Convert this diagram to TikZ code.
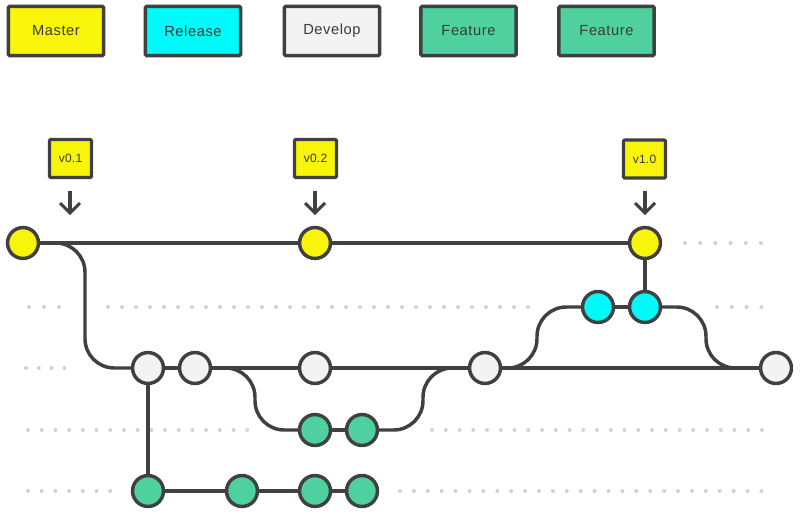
\documentclass[tikz,border=0pt]{standalone}
\usepackage{fontspec}
\setmainfont{Liberation Sans}[LetterSpace=4]
\newfontfamily\tagfont{Liberation Sans}[LetterSpace=2]
\definecolor{ink}{HTML}{404040}
\definecolor{txt}{HTML}{3A3A3A}
\definecolor{mast}{HTML}{F8F50A}
\definecolor{rel}{HTML}{00FAFA}
\definecolor{dev}{HTML}{F3F3F3}
\definecolor{feat}{HTML}{4ED19F}
\definecolor{dotc}{HTML}{D2D2D2}
\tikzset{
  legendbox/.style={draw=ink, line width=2.6pt, rounded corners=1pt, minimum width=71.5pt, minimum height=37pt, inner sep=0pt, text=txt, font=\fontsize{11pt}{13pt}\selectfont},
  tagbox/.style={draw=ink, fill=mast, line width=2.3pt, rounded corners=0.8pt, minimum width=31.5pt, minimum height=28.5pt, inner sep=0pt, text=txt, font=\tagfont\fontsize{9pt}{11pt}\selectfont},
  commit/.style={circle, draw=ink, line width=2.6pt, minimum size=23.2pt, inner sep=0pt},
  cmast/.style={commit, fill=mast},
  crel/.style={commit, fill=rel},
  cdev/.style={commit, fill=dev},
  cfeat/.style={commit, fill=feat},
  edgeline/.style={draw=ink, line width=2.6pt, rounded corners=22pt},
  tagarrow/.style={draw=ink, line width=2.3pt},
  dotrow/.style={fill=dotc}
}
\begin{document}
\begin{tikzpicture}[x=0.75pt,y=-0.75pt]
\useasboundingbox (0,0) rectangle (800,514);

% dotted guide rows
\foreach \x in {0,...,5} \fill[dotrow] (685+15.2*\x,243) circle (2);
\foreach \x in {29,44,59} \fill[dotrow] (\x,307) circle (2);
\foreach \x in {0,...,30} \fill[dotrow] (108+14*\x,307) circle (2);
\foreach \x in {0,...,3} \fill[dotrow] (717+14.8*\x,307) circle (2);
\foreach \x in {0,...,3} \fill[dotrow] (26+12.8*\x,368) circle (2);
\foreach \x in {0,...,16} \fill[dotrow] (28+13.7*\x,430) circle (2);
\foreach \x in {0,...,24} \fill[dotrow] (432+13.75*\x,430) circle (2);
\foreach \x in {0,...,6} \fill[dotrow] (28+13.7*\x,491) circle (2);
\foreach \x in {0,...,26} \fill[dotrow] (400+13.9*\x,491) circle (2);

% legend
\node[legendbox, fill=mast] (lm) at (56,31) {Master};
\node[legendbox, fill=rel] (lr) at (193,31) {Release};
\node[legendbox, fill=dev] (ld) at (332,31) {Develop};
\node[legendbox, fill=feat] (lf1) at (468.5,31) {Feature};
\node[legendbox, fill=feat] (lf2) at (606.5,31) {Feature};

% tags
\node[tagbox] (t1) at (70.5,158.5) {v0.1};
\node[tagbox] (t2) at (315.5,158.5) {v0.2};
\node[tagbox] (t3) at (644.5,159) {v1.0};
\coordinate (a1s) at (70,191); \coordinate (a1e) at (70,213);
\coordinate (a2s) at (315,191); \coordinate (a2e) at (315,213);
\coordinate (a3s) at (645,191); \coordinate (a3e) at (645,213);
\foreach \s/\e in {a1s/a1e,a2s/a2e,a3s/a3e}{
  \draw[tagarrow] (\s) -- (\e);
  \draw[tagarrow] (\e) ++(-10,-10) -- ++(10,10) -- ++(10,-10);
}

% commits
\node[cmast] (c1) at (23,243) {};
\node[cmast] (c2) at (315,243) {};
\node[cmast] (c3) at (645,243) {};
\node[crel] (r1) at (598,307) {};
\node[crel] (r2) at (645,307) {};
\node[cdev] (d1) at (148,368) {};
\node[cdev] (d2) at (195,368) {};
\node[cdev] (d3) at (315,368) {};
\node[cdev] (d4) at (485,368) {};
\node[cdev] (d5) at (776,368) {};
\node[cfeat] (f1) at (315,430) {};
\node[cfeat] (f2) at (362,430) {};
\node[cfeat] (g1) at (148,491) {};
\node[cfeat] (g2) at (242,491) {};
\node[cfeat] (g3) at (315,491) {};
\node[cfeat] (g4) at (362,491) {};

% bend points
\coordinate (bm) at (85,368);
\coordinate (bf1) at (255,430);
\coordinate (bf2) at (423,368);
\coordinate (br1) at (537,307);
\coordinate (br2) at (706,368);

% connectors
\draw[edgeline] (c1) -- (c2);
\draw[edgeline] (c2) -- (c3);
\draw[edgeline] (c1) -| (bm) -- (d1);
\draw[edgeline] (d1) -- (d2);
\draw[edgeline] (d2) -- (d3);
\draw[edgeline] (d3) -- (d4);
\draw[edgeline] (d4) -- (d5);
\draw[edgeline] (d1) -- (g1);
\draw[edgeline] (g1) -- (g2);
\draw[edgeline] (g2) -- (g3);
\draw[edgeline] (g3) -- (g4);
\draw[edgeline] (d2) -| (bf1) -- (f1);
\draw[edgeline] (f1) -- (f2);
\draw[edgeline] (f2) -| (bf2) -- (d4);
\draw[edgeline] (d4) -| (br1) -- (r1);
\draw[edgeline] (r1) -- (r2);
\draw[edgeline] (r2) -| (br2) -- (d5);
\draw[edgeline] (r2) -- (c3);
\end{tikzpicture}
\end{document}
